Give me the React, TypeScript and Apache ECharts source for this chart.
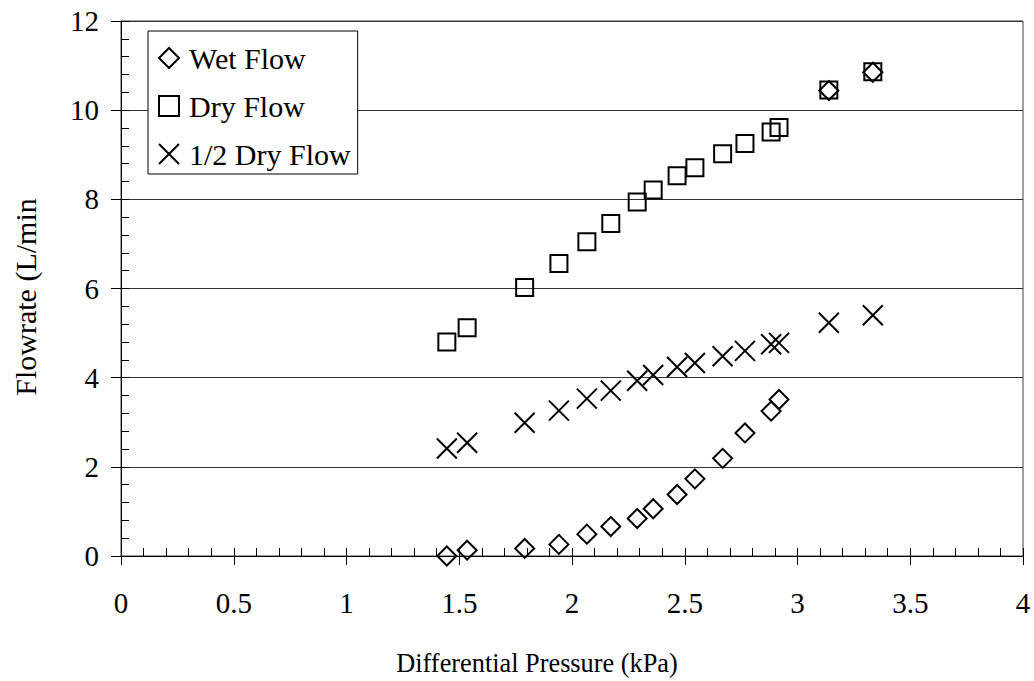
import React, { useEffect, useRef } from "react";
import * as echarts from "echarts";

const FONT = "Liberation Serif";

// Differential pressure (kPa) shared by the three series
const pressure = [1.445, 1.535, 1.79, 1.942, 2.066, 2.172, 2.289, 2.36, 2.466, 2.545, 2.668, 2.767, 2.883, 2.918, 3.139, 3.334];
const wetFlow = [0.0, 0.13, 0.17, 0.26, 0.49, 0.66, 0.84, 1.06, 1.38, 1.73, 2.19, 2.76, 3.25, 3.51, 10.44, 10.85];
const dryFlow = [4.8, 5.12, 6.02, 6.56, 7.05, 7.46, 7.94, 8.21, 8.53, 8.71, 9.02, 9.25, 9.51, 9.61, 10.45, 10.86];
const halfDryFlow = [2.41, 2.54, 2.99, 3.26, 3.53, 3.71, 3.93, 4.06, 4.24, 4.33, 4.48, 4.6, 4.75, 4.78, 5.23, 5.4];

const seriesNames = ["Wet Flow", "Dry Flow", "1/2 Dry Flow"];
const xTitle = "Differential Pressure (kPa)";
const yTitle = "Flowrate (L/min";

const pairs = (ys: number[]) => pressure.map((x, i) => [x, ys[i]]);

export default function App() {
  const ref = useRef<HTMLDivElement>(null);
  useEffect(() => {
    if (!ref.current) return;
    const chart = echarts.init(ref.current, undefined, { renderer: "svg" });
    const markerStyle = { color: "transparent", borderColor: "#000", borderWidth: 2, opacity: 1 };
    chart.setOption({
      animation: false,
      backgroundColor: "#fff",
      textStyle: { fontFamily: FONT },
      grid: { left: 121, top: 21, right: 11, bottom: 125, show: true, borderColor: "#404040", borderWidth: 1 },
      legend: {
        orient: "vertical",
        left: 148,
        top: 31,
        backgroundColor: "#fff",
        borderColor: "#000",
        borderWidth: 1,
        padding: [12, 7, 5, 10],
        itemGap: 18,
        itemWidth: 20,
        itemHeight: 20,
        data: seriesNames,
        itemStyle: { opacity: 1, borderWidth: 2, borderColor: "#000", color: "transparent" },
        textStyle: { fontFamily: FONT, fontSize: 30, color: "#000", lineHeight: 30, padding: [0, 0, 0, 5] },
      },
      xAxis: [
        {
          type: "value", min: 0, max: 4, interval: 0.5, position: "bottom",
          axisLine: { show: true, onZero: false, lineStyle: { color: "#000", width: 1 } },
          axisTick: { show: true, inside: false, length: 9, lineStyle: { color: "#000" } },
          axisLabel: { color: "#000", fontSize: 29, fontFamily: FONT, margin: 32 },
          splitLine: { show: false },
        },
        {
          type: "value", min: 0, max: 4, interval: 0.1, position: "bottom",
          axisLine: { show: false },
          axisTick: { show: true, inside: true, length: 8, lineStyle: { color: "#000" } },
          axisLabel: { show: false },
          splitLine: { show: false },
        },
      ],
      yAxis: [
        {
          type: "value", min: 0, max: 12, interval: 2, position: "left",
          axisLine: { show: true, onZero: false, lineStyle: { color: "#000", width: 1 } },
          axisTick: { show: true, inside: false, length: 10, lineStyle: { color: "#000" } },
          axisLabel: { color: "#000", fontSize: 29, fontFamily: FONT, margin: 22 },
          splitLine: { show: true, lineStyle: { color: "#333", width: 1 } },
        },
        {
          type: "value", min: 0, max: 12, interval: 0.4, position: "left",
          axisLine: { show: false },
          axisTick: { show: true, inside: true, length: 8, lineStyle: { color: "#000" } },
          axisLabel: { show: false },
          splitLine: { show: false },
        },
      ],
      graphic: [
        {
          type: "text", x: 537, y: 663, scaleX: 0.94,
          style: { text: xTitle, fontSize: 28, fontFamily: FONT, fill: "#000", textAlign: "center", textVerticalAlign: "middle" },
        },
        {
          type: "text", x: 25, y: 297, rotation: Math.PI / 2,
          style: { text: yTitle, fontSize: 30, fontFamily: FONT, fill: "#000", textAlign: "center", textVerticalAlign: "middle" },
        },
      ],
      series: [
        {
          name: seriesNames[0], type: "scatter", xAxisIndex: 0, yAxisIndex: 0,
          symbol: "diamond", symbolSize: 19, itemStyle: markerStyle, data: pairs(wetFlow), z: 3,
        },
        {
          name: seriesNames[1], type: "scatter", xAxisIndex: 0, yAxisIndex: 0,
          symbol: "rect", symbolSize: 17, itemStyle: markerStyle, data: pairs(dryFlow), z: 2,
        },
        {
          name: seriesNames[2], type: "scatter", xAxisIndex: 0, yAxisIndex: 0,
          symbol: "path://M0,0L10,10M10,0L0,10", symbolSize: 20, itemStyle: markerStyle, data: pairs(halfDryFlow), z: 2,
        },
      ],
    });
    return () => chart.dispose();
  }, []);
  return <div ref={ref} style={{ position: "absolute", left: 0, top: 0, width: 1034, height: 681, background: "#fff" }} />;
}
